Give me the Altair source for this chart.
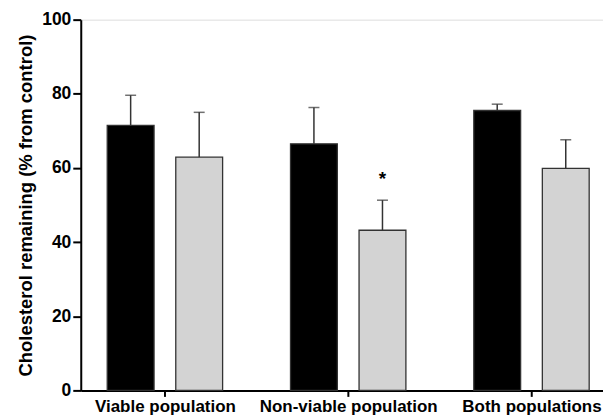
import altair as alt
import pandas as pd

categories = ["Viable population", "Non-viable population", "Both populations"]
series = ["A", "B"]
means_a = [71.5, 66.5, 75.5]
errs_a = [8.1, 9.8, 1.7]
means_b = [62.9, 43.2, 59.9]
errs_b = [12.1, 8.1, 7.7]
star_label = "*"
star_value = 58.3

offset = 0.187
rows = []
for i, c in enumerate(categories):
    pos = i + 1
    rows.append({"cat": c, "series": "A", "x": pos - offset, "mean": means_a[i], "top": means_a[i] + errs_a[i]})
    rows.append({"cat": c, "series": "B", "x": pos + offset, "mean": means_b[i], "top": means_b[i] + errs_b[i]})
df = pd.DataFrame(rows)
star_df = pd.DataFrame({"x": [2 + offset], "y": [star_value], "t": [star_label]})

xscale = alt.Scale(domain=[0.568, 3.363], nice=False, zero=False)
yscale = alt.Scale(domain=[0, 100], nice=False)

label_expr = "datum.value == 1 ? '%s' : datum.value == 2 ? '%s' : '%s'" % tuple(categories)

xaxis = alt.Axis(values=[1, 2, 3], labelExpr=label_expr, title=None, grid=False,
                 domainColor="black", domainWidth=2, tickColor="black", tickWidth=2, tickSize=6,
                 labelFont="Liberation Sans", labelFontWeight="bold", labelFontSize=17,
                 labelColor="black", labelPadding=2, labelFlush=False)
yaxis = alt.Axis(values=[0, 20, 40, 60, 80, 100], title="Cholesterol remaining (% from control)",
                 grid=False, domainColor="black", domainWidth=2, tickColor="black", tickWidth=2,
                 tickSize=8, labelFont="Liberation Sans", labelFontWeight="bold", labelFontSize=17.5,
                 labelColor="black", labelPadding=2, titleFont="Liberation Sans",
                 titleFontWeight="bold", titleFontSize=18.5, titleColor="black", titlePadding=6)

base = alt.Chart(df)

err = base.mark_rule(color="#333333", strokeWidth=1.5).encode(
    x=alt.X("x:Q", scale=xscale, axis=xaxis),
    y=alt.Y("mean:Q", scale=yscale, axis=yaxis),
    y2="top:Q",
)
caps = base.mark_tick(color="#333333", thickness=1.5, size=11, orient="horizontal").encode(
    x=alt.X("x:Q", scale=xscale),
    y=alt.Y("top:Q", scale=yscale),
)
bars = base.mark_bar(size=47, orient="vertical", stroke="#333333", strokeWidth=1.3).encode(
    x=alt.X("x:Q", scale=xscale),
    y=alt.Y("mean:Q", scale=yscale),
    color=alt.Color("series:N", scale=alt.Scale(domain=series, range=["#000000", "#d3d3d3"]), legend=None),
)
star = alt.Chart(star_df).mark_text(fontSize=19, fontWeight="bold", font="Liberation Sans",
                                    color="black", baseline="middle", dy=5).encode(
    x=alt.X("x:Q", scale=xscale),
    y=alt.Y("y:Q", scale=yscale),
    text="t:N",
)

chart = alt.layer(err, caps, bars, star).properties(
    width=524, height=372, padding={"left": 8, "right": 0, "top": 2, "bottom": 0}
).configure_view(stroke=None).configure(background="white")

chart.save("out.html", embed_options={"renderer": "svg", "actions": False})
